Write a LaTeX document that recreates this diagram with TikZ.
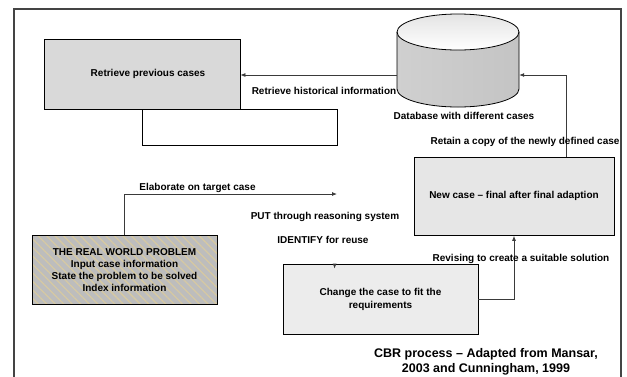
\documentclass[tikz,border=0pt]{standalone}
\usepackage{fontspec}
\setmainfont{Liberation Sans}
\usetikzlibrary{arrows.meta,patterns.meta,calc}
\definecolor{linegray}{HTML}{3A3A3A}
\definecolor{framegray}{HTML}{444444}
\definecolor{retfill}{HTML}{D9D9D9}
\definecolor{newfill}{HTML}{E6E6E6}
\definecolor{chgfill}{HTML}{ECECEC}
\definecolor{rwfill}{HTML}{BDBDBD}
\definecolor{rwstripe}{HTML}{D6C9A2}
\definecolor{cylside}{HTML}{C4C4C4}
\definecolor{cylmid}{HTML}{F6F6F6}
\definecolor{cyltop}{HTML}{E4E4E4}
\begin{document}
\begin{tikzpicture}[x=1pt,y=-1pt,
  lbl/.style={font=\fontsize{10}{12}\selectfont\bfseries, inner sep=0pt, text=black},
  capt/.style={font=\fontsize{12.5}{15}\selectfont\bfseries, inner sep=0pt, text=black},
  boxstyle/.style={draw=black, line width=0.8pt, inner sep=2pt, align=center,
    font=\fontsize{10}{12.2}\selectfont\bfseries},
  conn/.style={draw=linegray, line width=0.8pt, -{Latex[length=5pt,width=4pt]}},
  framestyle/.style={draw=framegray, line width=1.3pt}]
\useasboundingbox (0,0) rectangle (627,376);
% frame
\draw[framestyle] (14,382) -- (14,9) -- (621,9) -- (621,382);
% boxes
\node[boxstyle, fill=white, minimum width=195pt, minimum height=36pt] (wht) at (239.5,127) {};
\node[boxstyle, fill=retfill, minimum width=196pt, minimum height=70pt] (ret) at (142,74) {\hspace*{12pt}Retrieve previous cases};
\node[boxstyle, fill=newfill, minimum width=200pt, minimum height=78.5pt] (new) at (514,196.2) {New case -- final after final adaption};
\node[boxstyle, preaction={fill=rwfill}, pattern={Lines[angle=-45,distance=6pt,line width=1.3pt]}, pattern color=rwstripe,
  minimum width=185pt, minimum height=69pt] (rw) at (124.5,270)
  {THE REAL WORLD PROBLEM\\Input case information\\State the problem to be solved\\Index information};
\node[boxstyle, fill=chgfill, minimum width=195pt, minimum height=70pt, font=\fontsize{10}{12.5}\selectfont\bfseries] (chg) at (380.5,299.5)
  {Change the case to fit the\\requirements};
% database cylinder
\shade[left color=cylside!80, middle color=cylmid, right color=cylside]
  (397,32) -- (397,89) arc[start angle=180,end angle=0,x radius=61,y radius=18]
  -- (519,32) arc[start angle=0,end angle=180,x radius=61,y radius=18] -- cycle;
\shade[top color=cyltop, bottom color=white] (458,32) ellipse[x radius=61,y radius=18];
\draw[black, line width=0.8pt] (458,32) ellipse[x radius=61,y radius=18];
\draw[black, line width=0.8pt] (397,32) -- (397,89) arc[start angle=180,end angle=0,x radius=61,y radius=18] -- (519,32);
\node[minimum width=122pt, minimum height=93pt, inner sep=0pt] (db) at (458,60.5) {};
\coordinate (dbL) at (db.west |- 0,75);
\coordinate (dbR) at (db.east |- 0,75);
\coordinate (elabEnd) at (337,194);
% connectors
\draw[conn] (dbL) -- (dbL -| ret.east);
\draw[conn] ($(new.north west)+(153,0)$) |- (dbR);
\draw[conn] (rw.north) |- (elabEnd);
\draw[conn] ($(chg.north west)+(52,0)$) -- ++(0,4.5);
\draw[conn] (chg.east) -| (new.south);
% labels
\node[lbl] (l1) at (324,91) {Retrieve historical information};
\node[lbl] (l2) at (464,116) {Database with different cases};
\node[lbl] (l3) at (525,142) {Retain a copy of the newly defined case};
\node[lbl] (l4) at (197.5,188) {Elaborate on target case};
\node[lbl] (l5) at (325,216.5) {PUT through reasoning system};
\node[lbl] (l6) at (323,240) {IDENTIFY for reuse};
\node[lbl] (l7) at (521,258.5) {Revising to create a suitable solution};
\node[capt, align=center] (cap) at (486,362) {CBR process -- Adapted from Mansar,\\2003 and Cunningham, 1999};
\end{tikzpicture}
\end{document}
